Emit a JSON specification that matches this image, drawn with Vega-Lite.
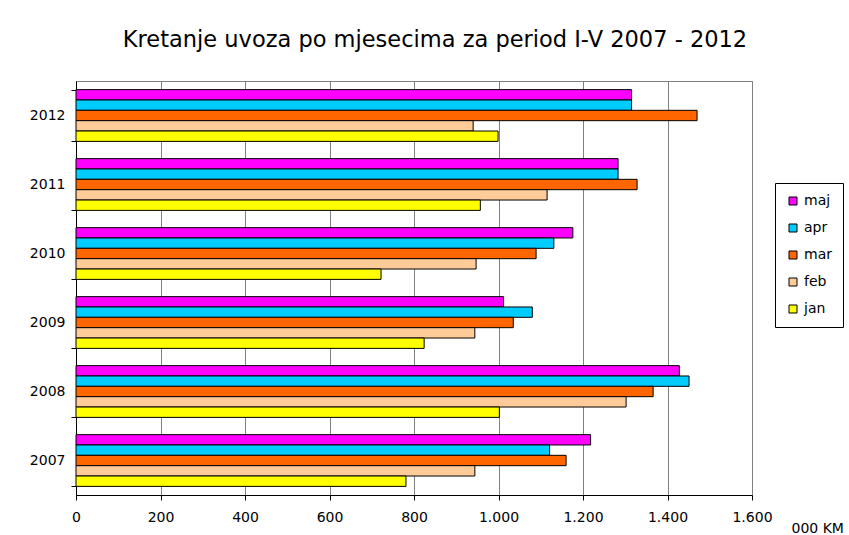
{
  "$schema": "https://vega.github.io/schema/vega-lite/v6.json",
  "width": 676,
  "height": 414,
  "autosize": {"type": "none"},
  "padding": {"left": 76, "top": 81, "right": 97, "bottom": 40},
  "background": "white",
  "title": {
    "text": "Kretanje uvoza po mjesecima za period I-V 2007 - 2012",
    "font": "DejaVu Sans",
    "fontSize": 22.5,
    "fontWeight": "normal",
    "color": "black",
    "anchor": "middle",
    "dx": 21,
    "offset": 23
  },
  "data": {
    "values": [
      {"godina": "2012", "mjesec": "maj", "vrijednost": 1315},
      {"godina": "2012", "mjesec": "apr", "vrijednost": 1315},
      {"godina": "2012", "mjesec": "mar", "vrijednost": 1470},
      {"godina": "2012", "mjesec": "feb", "vrijednost": 940},
      {"godina": "2012", "mjesec": "jan", "vrijednost": 999},
      {"godina": "2011", "mjesec": "maj", "vrijednost": 1283},
      {"godina": "2011", "mjesec": "apr", "vrijednost": 1283},
      {"godina": "2011", "mjesec": "mar", "vrijednost": 1328},
      {"godina": "2011", "mjesec": "feb", "vrijednost": 1115},
      {"godina": "2011", "mjesec": "jan", "vrijednost": 957},
      {"godina": "2010", "mjesec": "maj", "vrijednost": 1176},
      {"godina": "2010", "mjesec": "apr", "vrijednost": 1131},
      {"godina": "2010", "mjesec": "mar", "vrijednost": 1089},
      {"godina": "2010", "mjesec": "feb", "vrijednost": 947},
      {"godina": "2010", "mjesec": "jan", "vrijednost": 722},
      {"godina": "2009", "mjesec": "maj", "vrijednost": 1012},
      {"godina": "2009", "mjesec": "apr", "vrijednost": 1080},
      {"godina": "2009", "mjesec": "mar", "vrijednost": 1035},
      {"godina": "2009", "mjesec": "feb", "vrijednost": 944},
      {"godina": "2009", "mjesec": "jan", "vrijednost": 824},
      {"godina": "2008", "mjesec": "maj", "vrijednost": 1428},
      {"godina": "2008", "mjesec": "apr", "vrijednost": 1451},
      {"godina": "2008", "mjesec": "mar", "vrijednost": 1366},
      {"godina": "2008", "mjesec": "feb", "vrijednost": 1302},
      {"godina": "2008", "mjesec": "jan", "vrijednost": 1002},
      {"godina": "2007", "mjesec": "maj", "vrijednost": 1218},
      {"godina": "2007", "mjesec": "apr", "vrijednost": 1121},
      {"godina": "2007", "mjesec": "mar", "vrijednost": 1160},
      {"godina": "2007", "mjesec": "feb", "vrijednost": 944},
      {"godina": "2007", "mjesec": "jan", "vrijednost": 781}
    ]
  },
  "mark": {"type": "bar", "stroke": "black", "strokeWidth": 1, "cornerRadius": 0},
  "encoding": {
    "y": {
      "field": "godina",
      "type": "nominal",
      "sort": ["2012", "2011", "2010", "2009", "2008", "2007"],
      "scale": {"paddingInner": 0.25, "paddingOuter": 0.125},
      "axis": {
        "title": null,
        "tickBand": "extent",
        "tickSize": 5,
        "tickColor": "black",
        "domainColor": "black",
        "labelFont": "DejaVu Sans",
        "labelFontSize": 14,
        "labelColor": "black",
        "labelPadding": 6
      }
    },
    "yOffset": {
      "field": "mjesec",
      "type": "nominal",
      "sort": ["maj", "apr", "mar", "feb", "jan"],
      "scale": {"paddingInner": 0, "paddingOuter": 0}
    },
    "x": {
      "field": "vrijednost",
      "type": "quantitative",
      "scale": {"domain": [0, 1600], "nice": false},
      "axis": {
        "values": [0, 200, 400, 600, 800, 1000, 1200, 1400, 1600],
        "labelExpr": "replace(format(datum.value, ','), ',', '.')",
        "grid": true,
        "gridColor": "#808080",
        "gridOpacity": 1,
        "tickSize": 5,
        "tickColor": "black",
        "domainColor": "black",
        "labelFont": "DejaVu Sans",
        "labelFontSize": 14,
        "labelColor": "black",
        "labelPadding": 10,
        "labelFlush": false,
        "title": "000 KM",
        "titleFont": "DejaVu Sans",
        "titleFontSize": 14,
        "titleFontWeight": "normal",
        "titleColor": "black",
        "titleAnchor": "start",
        "titleAlign": "left",
        "titleBaseline": "alphabetic",
        "titleX": 715,
        "titleY": 37
      }
    },
    "color": {
      "field": "mjesec",
      "type": "nominal",
      "scale": {
        "domain": ["maj", "apr", "mar", "feb", "jan"],
        "range": ["#FF00FF", "#00CCFF", "#FF6600", "#FFCC99", "#FFFF00"]
      },
      "legend": {
        "title": null,
        "orient": "none",
        "legendX": 699,
        "legendY": 102,
        "symbolType": "square",
        "symbolSize": 64,
        "symbolStrokeColor": "black",
        "symbolStrokeWidth": 1,
        "labelFont": "DejaVu Sans",
        "labelFontSize": 14,
        "labelColor": "black",
        "rowPadding": 13,
        "padding": 11,
        "strokeColor": "black",
        "fillColor": "white"
      }
    }
  },
  "config": {
    "view": {"stroke": "#808080", "strokeWidth": 1}
  }
}
